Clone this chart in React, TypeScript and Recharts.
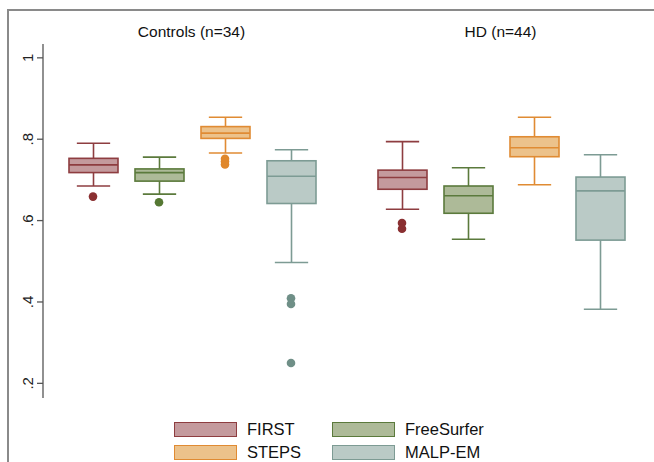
import { Bar, ComposedChart, Scatter, XAxis, YAxis } from "recharts";

const methods = ["FIRST", "FreeSurfer", "STEPS", "MALP-EM"];
const yTicks = [0.2, 0.4, 0.6, 0.8, 1];

// Controls (n=34)
const controlsLow = [0.685, 0.665, 0.766, 0.497];
const controlsQ1 = [0.718, 0.697, 0.802, 0.642];
const controlsMedian = [0.737, 0.718, 0.815, 0.709];
const controlsQ3 = [0.753, 0.727, 0.831, 0.747];
const controlsHigh = [0.79, 0.756, 0.854, 0.774];
const controlsOutliers = [[0.659], [0.645], [0.752, 0.745, 0.738], [0.409, 0.395, 0.25]];

// HD (n=44)
const hdLow = [0.628, 0.554, 0.688, 0.382];
const hdQ1 = [0.677, 0.618, 0.757, 0.552];
const hdMedian = [0.706, 0.661, 0.779, 0.673];
const hdQ3 = [0.724, 0.685, 0.806, 0.707];
const hdHigh = [0.794, 0.73, 0.854, 0.762];
const hdOutliers = [[0.594, 0.58], [], [], []];

const fills: Record<string, string> = {
  FIRST: "#c49a9d",
  FreeSurfer: "#adba98",
  STEPS: "#ecc28b",
  "MALP-EM": "#bacac6",
};
const strokes: Record<string, string> = {
  FIRST: "#8e3d40",
  FreeSurfer: "#5b7a3c",
  STEPS: "#e08b33",
  "MALP-EM": "#7d9b94",
};
const dots: Record<string, string> = {
  FIRST: "#8a2f31",
  FreeSurfer: "#557833",
  STEPS: "#e0882c",
  "MALP-EM": "#6f8f87",
};

const DOMAIN: [number, number] = [0.164, 1.034];
const FONT = "'Liberation Sans', Arial, Helvetica, sans-serif";

function buildRows(lo: number[], q1: number[], med: number[], q3: number[], hi: number[]) {
  return methods.map((m, i) => ({
    method: m,
    range: [lo[i], hi[i]],
    lo: lo[i],
    q1: q1[i],
    med: med[i],
    q3: q3[i],
    hi: hi[i],
  }));
}

function buildOutliers(out: number[][]) {
  return methods.flatMap((m, i) => out[i].map((v) => ({ method: m, value: v })));
}

function BoxShape(props: any) {
  const { x, y, width, height, payload } = props;
  if (x == null || y == null) return null;
  const top = Math.min(y, y + height);
  const h = Math.abs(height);
  const { lo, q1, med, q3, hi, method } = payload;
  const py = (v: number) => top + ((hi - v) / (hi - lo)) * h;
  const cx = x + width / 2;
  const cap = width * 0.68;
  const s = strokes[method];
  const sw = 1.6;
  return (
    <g>
      <line x1={cx} x2={cx} y1={py(hi)} y2={py(q3)} stroke={s} strokeWidth={sw} />
      <line x1={cx} x2={cx} y1={py(q1)} y2={py(lo)} stroke={s} strokeWidth={sw} />
      <line x1={cx - cap / 2} x2={cx + cap / 2} y1={py(hi)} y2={py(hi)} stroke={s} strokeWidth={sw} />
      <line x1={cx - cap / 2} x2={cx + cap / 2} y1={py(lo)} y2={py(lo)} stroke={s} strokeWidth={sw} />
      <rect x={x} y={py(q3)} width={width} height={py(q1) - py(q3)} fill={fills[method]} stroke={s} strokeWidth={sw} />
      <line x1={x} x2={x + width} y1={py(med)} y2={py(med)} stroke={s} strokeWidth={sw} />
    </g>
  );
}

function OutlierDot(props: any) {
  const { cx, cy, payload } = props;
  if (cx == null || cy == null) return null;
  return <circle cx={cx} cy={cy} r={4.3} fill={dots[payload.method]} />;
}

function YTick(props: any) {
  const { x, y, payload } = props;
  const label = payload.value === 1 ? "1" : String(payload.value).replace(/^0/, "");
  const bx = x - 2;
  return (
    <text
      x={bx}
      y={y}
      transform={`rotate(-90 ${bx} ${y})`}
      textAnchor="middle"
      fontSize={15}
      fontFamily={FONT}
      fill="#222"
    >
      {label}
    </text>
  );
}

type PanelProps = {
  rows: ReturnType<typeof buildRows>;
  outliers: { method: string; value: number }[];
  width: number;
  showY: boolean;
  marginLeft: number;
  marginRight: number;
};

function Panel({ rows, outliers, width, showY, marginLeft, marginRight }: PanelProps) {
  return (
    <ComposedChart
      width={width}
      height={462}
      data={rows}
      margin={{ top: 44, right: marginRight, bottom: 64, left: marginLeft }}
    >
      <XAxis
        dataKey="method"
        type="category"
        allowDuplicatedCategory={false}
        padding={{ left: 17, right: 16 }}
        tick={false}
        tickLine={false}
        height={0}
        axisLine={{ stroke: "#555", strokeWidth: 1.3 }}
      />
      <YAxis
        hide={!showY}
        width={43}
        domain={DOMAIN}
        ticks={yTicks}
        allowDataOverflow
        tick={<YTick />}
        tickSize={6}
        tickLine={{ stroke: "#555", strokeWidth: 1.3 }}
        axisLine={{ stroke: "#555", strokeWidth: 1.3 }}
      />
      <Bar dataKey="range" barSize={49} shape={<BoxShape />} isAnimationActive={false} />
      <Scatter data={outliers} dataKey="value" shape={<OutlierDot />} isAnimationActive={false} />
    </ComposedChart>
  );
}

function LegendItem({ name, left, top }: { name: string; left: number; top: number }) {
  return (
    <div style={{ position: "absolute", left, top, display: "flex", alignItems: "center" }}>
      <div
        style={{
          width: 61,
          height: 13,
          background: fills[name],
          border: `1.5px solid ${strokes[name]}`,
        }}
      />
      <span style={{ marginLeft: 10, fontSize: 16.5, fontFamily: FONT, color: "#111" }}>{name}</span>
    </div>
  );
}

export default function App() {
  const controlRows = buildRows(controlsLow, controlsQ1, controlsMedian, controlsQ3, controlsHigh);
  const hdRows = buildRows(hdLow, hdQ1, hdMedian, hdQ3, hdHigh);
  return (
    <div style={{ position: "absolute", left: 0, top: 0, width: 654, height: 462, background: "#fff", overflow: "hidden" }}>
      <div
        style={{
          position: "absolute",
          left: 7,
          top: 9,
          width: 660,
          height: 470,
          borderTop: "2px solid #8a8a8a",
          borderLeft: "2px solid #8a8a8a",
        }}
      />
      <div style={{ position: "absolute", left: 0, top: 0 }}>
        <Panel rows={controlRows} outliers={buildOutliers(controlsOutliers)} width={346} showY marginLeft={0} marginRight={6} />
      </div>
      <div style={{ position: "absolute", left: 346, top: 0 }}>
        <Panel rows={hdRows} outliers={buildOutliers(hdOutliers)} width={308} showY={false} marginLeft={6} marginRight={5} />
      </div>
      <div style={{ position: "absolute", left: 43, width: 297, top: 23, textAlign: "center", fontSize: 15.5, fontFamily: FONT, color: "#111" }}>
        Controls (n=34)
      </div>
      <div style={{ position: "absolute", left: 352, width: 297, top: 23, textAlign: "center", fontSize: 15.5, fontFamily: FONT, color: "#111" }}>
        HD (n=44)
      </div>
      <LegendItem name="FIRST" left={174} top={420} />
      <LegendItem name="STEPS" left={174} top={443} />
      <LegendItem name="FreeSurfer" left={332} top={420} />
      <LegendItem name="MALP-EM" left={332} top={443} />
    </div>
  );
}
